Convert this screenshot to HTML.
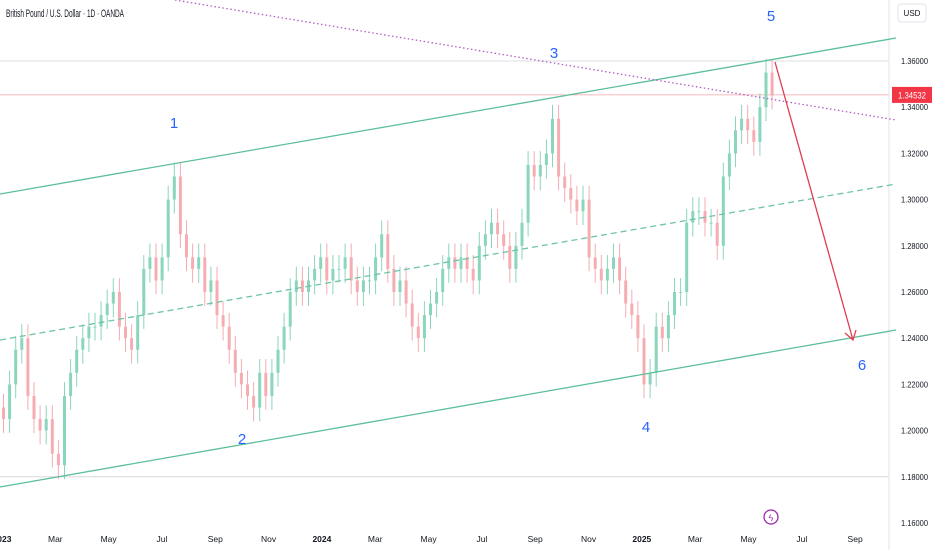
<!DOCTYPE html>
<html><head><meta charset="utf-8"><style>
body{margin:0;background:#fff;font-family:"Liberation Sans",sans-serif;}
#wrap{position:relative;width:932px;height:550px;overflow:hidden;}
svg text{font-family:"Liberation Sans",sans-serif;}
</style></head><body>
<div id="wrap">
<svg id="svg" width="932" height="550" xmlns="http://www.w3.org/2000/svg">
<rect width="932" height="550" fill="#fff"/>
<g id="grid"></g>
<line x1="889" y1="0" x2="889" y2="550" stroke="#e0e3eb"/>
<g id="candles"></g>
<g id="draw"></g>
<g id="axes"></g>
<text x="6" y="17" font-size="11" fill="#131722" textLength="118" lengthAdjust="spacingAndGlyphs">British Pound / U.S. Dollar · 1D · OANDA</text>
<rect x="898" y="4" width="28" height="18" rx="3" fill="#fff" stroke="#e0e3eb"/>
<text x="912" y="16" font-size="8" fill="#131722" text-anchor="middle">USD</text>
<circle cx="771" cy="517" r="7" fill="none" stroke="#9c27b0" stroke-width="1.3"/>
<text x="771" y="521" font-size="9" fill="#9c27b0" text-anchor="middle">ϟ</text>
</svg>
</div>
<script>
const closes=[1.205,1.22,1.235,1.24,1.215,1.205,1.20,1.205,1.19,1.185,1.215,1.225,1.235,1.24,1.245,1.245,1.25,1.255,1.26,1.245,1.24,1.235,1.25,1.27,1.275,1.265,1.275,1.30,1.31,1.285,1.275,1.27,1.275,1.26,1.265,1.25,1.245,1.235,1.225,1.22,1.215,1.21,1.225,1.215,1.225,1.235,1.245,1.26,1.265,1.26,1.265,1.27,1.275,
1.265,1.27,1.27,1.275,1.265,1.26,1.265,1.265,1.275,1.285,1.27,1.26,1.265,1.255,1.245,1.24,1.25,1.255,1.26,1.27,1.275,1.27,1.275,1.27,1.265,1.28,1.285,1.29,1.285,1.28,1.27,1.28,1.29,1.315,1.31,1.315,1.32,1.335,1.31,1.305,1.30,1.295,1.30,1.275,1.27,1.265,1.27,1.275,1.265,1.255,1.25,
1.24,1.22,1.225,1.245,1.24,1.25,1.26,1.26,1.29,1.295,1.295,1.29,1.29,1.28,1.31,1.32,1.33,1.335,1.33,1.325,1.34,1.355,1.345];
const firstOpen=1.21;
const priceTicks=[1.36,1.34,1.32,1.30,1.28,1.26,1.24,1.22,1.20,1.18,1.16];
const timeLabels=["2023","Mar","May","Jul","Sep","Nov","2024","Mar","May","Jul","Sep","Nov","2025","Mar","May","Jul","Sep"];
const timeMonths=[0,2,4,6,8,10,12,14,16,18,20,22,24,26,28,30,32];
const lastPrice=1.34532;
const NS="http://www.w3.org/2000/svg";
const y=p=>61+(1.36-p)/0.02*46.2;
const xw=i=>2+i*6.1;
const xm=m=>2+m*26.66;
function mk(tag,a,parent){const e=document.createElementNS(NS,tag);for(const k in a)e.setAttribute(k,a[k]);document.getElementById(parent).appendChild(e);return e;}
priceTicks.forEach(p=>{
  const t=mk('text',{x:901,y:y(p)+3,'font-size':8.5,fill:'#131722',textLength:27,lengthAdjust:'spacingAndGlyphs'},'axes');
  
  
  t.textContent=p.toFixed(5);
});
timeLabels.forEach((l,i)=>{
  const t=mk('text',{x:xm(timeMonths[i]),y:542,'font-size':8.5,fill:'#131722','text-anchor':'middle','font-weight':l.length==4?'bold':'normal'},'axes');
  
  
  t.textContent=l;
});
[1.36,1.18].forEach(p=>{
  const l=mk('line',{x1:0,x2:889,y1:y(p),y2:y(p),stroke:'#d1d4dc','stroke-width':0.8},'grid');
  
  
});
const pl=mk('line',{x1:0,x2:889,y1:y(lastPrice),y2:y(lastPrice),stroke:'#f7a1a8','stroke-width':0.8},'grid');


closes.forEach((c,i)=>{
  const o=i?closes[i-1]:firstOpen;
  const up=c>=o;const col=up?'#8ad6bd':'#f5adb2';
  const cx=xw(i)+1.5;
  const w=mk('line',{x1:cx,x2:cx,y1:y(Math.max(o,c)+0.006),y2:y(Math.min(o,c)-0.006),stroke:col,'stroke-width':1},'candles');
  
  
  const r=mk('rect',{x:xw(i),y:y(Math.max(o,c)),width:3,height:Math.max(1,Math.abs(y(o)-y(c))),fill:col},'candles');
  
  
});
const lines=[
 ['upper-channel-line',0,194,896,38,'#5cbf9a','none'],
 ['lower-channel-line',0,487,896,330,'#5cbf9a','none'],
 ['mid-channel-line',0,340,896,184,'#6fc4a6','6 4'],
 ['resistance-trendline',175,0,896,120,'#b05fc4','1.5 2.5'],
 ['projection-arrow',775,62,853,340,'#e03e4e','none']];
lines.forEach(d=>{
  const l=mk('line',{x1:d[1],y1:d[2],x2:d[3],y2:d[4],stroke:d[5],'stroke-width':1.3,'stroke-dasharray':d[6]},'draw');
  
  
});
const ah=mk('polyline',{points:'845,333 853,340 856,330',fill:'none',stroke:'#e03e4e','stroke-width':1.3},'draw');


[['1',174,128],['2',242,444],['3',554,58],['4',646,432],['5',771,21],['6',862,370]].forEach(d=>{
  const t=mk('text',{x:d[1],y:d[2],'font-size':15,fill:'#2962ff','text-anchor':'middle'},'draw');
  
  
  t.textContent=d[0];
});
const pb=mk('rect',{x:892,y:y(lastPrice)-8,width:40,height:16,fill:'#f23645'},'axes');


const pt=mk('text',{x:898,y:y(lastPrice)+3.5,'font-size':9,fill:'#fff',textLength:28,lengthAdjust:'spacingAndGlyphs'},'axes');


pt.textContent=lastPrice.toFixed(5);
</script>
</body></html>
